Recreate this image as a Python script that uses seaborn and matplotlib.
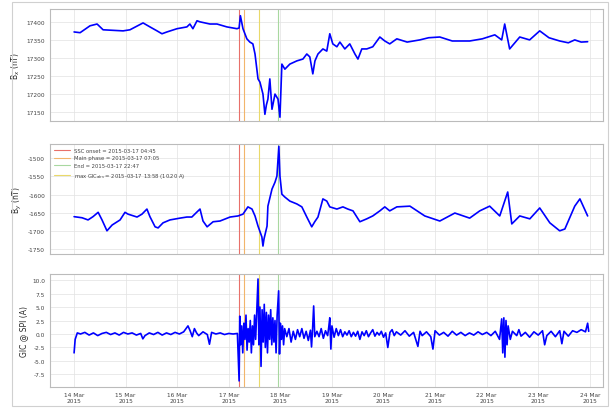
import numpy as np
import pandas as pd
import matplotlib
matplotlib.use("Agg")
import matplotlib.pyplot as plt
import matplotlib.dates as mdates
import seaborn as sns

# ---------------- data (hours after 2015-03-14 00:00) ----------------
bx_hours = [0, 2.8, 7.4, 10.7, 13.5, 22.8, 26.0, 32.1, 35.3, 38.6, 40.9, 43.2, 47.9, 52.5,
            53.9, 55.3, 57.2, 58.6, 63.2, 66.5, 71.1, 75.8, 76.8, 77.4, 78.6, 80.4, 81.8,
            83.2, 84.2, 85.6, 86.5, 87.9, 88.8, 89.5, 90.2, 91.1, 92.1, 93.5, 94.9, 95.8,
            96.7, 98.1, 100.4, 103.7, 106.5, 108.3, 109.7, 111.1, 112.1, 113.5, 115.8,
            117.6, 119.0, 120.4, 122.3, 123.7, 126.0, 128.3, 130.7, 132.1, 133.9, 136.2,
            139.0, 142.3, 144.6, 146.9, 150.2, 155.0, 160.9, 165.0, 170.2, 176.0, 184.1,
            190.0, 195.8, 199.0, 200.4, 202.7, 207.4, 212.0, 216.7, 221.0, 226.0, 230.0,
            233.0, 236.0, 239.0]
bx_values = [17372, 17370, 17389, 17394, 17378, 17375, 17378, 17397, 17386, 17375, 17367,
             17372, 17381, 17386, 17394, 17381, 17403, 17400, 17394, 17394, 17386, 17381,
             17383, 17417, 17381, 17353, 17344, 17339, 17311, 17242, 17233, 17200, 17144,
             17170, 17186, 17242, 17158, 17200, 17186, 17136, 17283, 17269, 17283, 17292,
             17297, 17311, 17303, 17256, 17292, 17311, 17325, 17319, 17367, 17339, 17331,
             17344, 17325, 17339, 17311, 17297, 17325, 17325, 17331, 17358, 17347, 17339,
             17353, 17344, 17350, 17356, 17358, 17347, 17347, 17353, 17364, 17350, 17394,
             17325, 17358, 17350, 17375, 17356, 17347, 17342, 17350, 17344, 17345]

by_hours = [0, 3.7, 6.5, 8.8, 11.2, 13.0, 15.3, 17.7, 21.4, 23.7, 25.1, 29.3, 31.6, 33.9,
            35.3, 37.7, 39.1, 41.4, 44.6, 49.3, 52.5, 54.8, 57.2, 58.6, 60.0, 61.9, 64.7,
            67.9, 72.6, 76.3, 78.6, 80.9, 82.8, 84.2, 85.6, 87.4, 87.9, 88.4, 89.8, 90.2,
            92.1, 93.5, 94.4, 95.3, 95.8, 96.7, 98.1, 100.4, 103.7, 106.0, 108.3, 110.6,
            112.0, 113.5, 115.8, 117.6, 119.0, 122.3, 125.1, 127.4, 129.8, 133.0, 136.2,
            139.0, 142.3, 144.6, 146.9, 150.2, 156.3, 163.2, 170.2, 177.2, 184.1, 188.8,
            193.4, 198.1, 201.8, 203.7, 207.4, 212.1, 216.7, 221.4, 226.0, 228.4, 233.0,
            235.4, 239.0]
by_values = [-1661, -1664, -1670, -1661, -1649, -1670, -1700, -1684, -1670, -1649, -1654,
             -1662, -1654, -1640, -1661, -1689, -1692, -1678, -1670, -1665, -1662, -1662,
             -1648, -1640, -1673, -1689, -1675, -1673, -1662, -1659, -1654, -1634, -1640,
             -1659, -1687, -1717, -1742, -1722, -1687, -1632, -1585, -1566, -1549, -1467,
             -1549, -1599, -1607, -1618, -1626, -1634, -1662, -1689, -1675, -1662, -1612,
             -1618, -1634, -1640, -1634, -1640, -1645, -1675, -1667, -1659, -1645, -1634,
             -1645, -1634, -1632, -1659, -1673, -1651, -1665, -1645, -1632, -1659, -1593,
             -1681, -1659, -1667, -1637, -1678, -1700, -1695, -1632, -1612, -1659]

# GIC samples as (hour, amps) pairs
gic_samples = [
    (0, -3.5), (0.5, -1.0), (1.5, 0.2), (3, 0.0), (5, 0.3), (7, -0.2), (9, 0.2),
    (11, -0.3), (13, 0.1), (15, 0.3), (17, -0.1), (19, 0.2), (21, -0.2), (23, 0.3),
    (25, 0.0), (27, 0.2), (29, -0.2), (31, 0.1), (32, -0.9), (33, -0.3), (35, 0.2),
    (37, -0.1), (39, 0.3), (41, -0.2), (43, 0.2), (45, -0.1), (47, 0.3), (49, 0.0),
    (51, 0.4), (53, 1.5), (54, 0.6), (55, -0.5), (56, 1.0), (57, 0.2), (58, -0.3),
    (60, 0.4), (62, -0.1), (63, -1.9), (64, 0.3), (66, 0.0), (68, 0.2), (70, -0.1),
    (72, 0.1), (74, 0.0), (76, 0.1),
    (76.8, -8.7), (77.1, 3.3), (77.5, -2.0), (78, 1.5), (78.5, -3.5), (79, 2.0),
    (79.5, -1.0), (80, 3.5), (80.5, -3.0), (81, 1.0), (81.5, -1.5), (82, 2.5),
    (82.5, -3.5), (83, 1.5), (83.5, -2.0), (84, 3.5), (84.5, -1.0), (85, 4.0),
    (85.6, 10.2), (86, -2.0), (86.5, 5.0), (87, -6.0), (87.5, 4.5), (88, -1.5),
    (88.5, 5.5), (89, -2.5), (89.5, 4.0), (90, -3.5), (90.5, 3.5), (91, -1.0),
    (91.5, 4.5), (92, -2.0), (92.5, 3.0), (93, -1.5), (93.5, 2.5), (94, -3.5),
    (94.5, 3.5), (95.2, 8.0), (95.6, -3.7), (96, 2.0), (96.5, -1.0), (97, 1.5),
    (97.5, -2.0), (98, 1.0), (99, -0.5), (100, 1.0), (101, -1.5), (102, 0.5),
    (103, -1.0), (104, 0.8), (105, -0.5), (106, 1.0), (107, -0.8), (108, 0.5),
    (109, -1.2), (110, 0.7), (110.5, -2.4), (111, 1.0), (111.5, 5.2), (112, -0.5),
    (113, 0.5), (114, -0.5), (115, 1.0), (116, -0.8), (117, 0.6), (118, -0.3),
    (118.5, 1.2), (119, 3.0), (119.5, -2.8), (120, 1.5), (121, -0.6), (122, 1.0),
    (123, -0.3), (124, 0.8), (125, -0.5), (126, 0.4), (127, -0.2), (128, 0.6),
    (129, -0.5), (130, 0.3), (131, -0.4), (132, 0.5), (133, -1.0), (134, 0.4),
    (135, -0.3), (136, 0.6), (137, -0.5), (138, 0.2), (139, 0.8), (140, -0.4),
    (141, 0.3), (142, -0.2), (143, 0.5), (144, -0.6), (145, 0.2), (146, -2.5),
    (147, 0.3), (148, 0.8), (149, -0.3), (150, 0.4), (152, -0.2), (154, 0.6),
    (156, -0.4), (158, 0.3), (160, -2.3), (161, 0.5), (162, -0.3), (164, 0.4),
    (166, -0.5), (167, -2.8), (168, 0.6), (170, -0.2), (172, 0.3), (174, -0.4),
    (176, 0.5), (178, -0.2), (180, 0.3), (182, -0.3), (184, 0.2), (186, -0.2),
    (188, 0.4), (190, -0.1), (192, 0.3), (194, -0.3), (196, 0.5), (198, -1.0),
    (199, 2.8), (199.5, -3.5), (200, 3.0), (200.5, -4.3), (201, 2.5), (201.5, -2.0),
    (202, 1.5), (203, -1.0), (204, 0.5), (206, -0.3), (207, 0.8), (208, -0.4),
    (210, 0.3), (212, -0.6), (214, 0.4), (216, -0.2), (218, 0.6), (219, -2.0),
    (220, -0.3), (222, 0.5), (224, -0.5), (226, 0.6), (227, -1.8), (228, 0.5),
    (230, -0.4), (232, 0.6), (234, 0.3), (236, 0.8), (238, 0.4), (239, 2.0),
    (239.5, 0.5),
]

event_labels = ["SSC onset = 2015-03-17 04:45", "Main phase = 2015-03-17 07:05",
                "End = 2015-03-17 22:47", "max GIC$_{abs}$ = 2015-03-17 13:58 (10.20 A)"]
event_hours = [76.75, 79.08, 94.78, 85.97]
event_colors = ["#e8706a", "#f2b56b", "#a8d8a0", "#e9d96a"]

bx_ticks = [17150, 17200, 17250, 17300, 17350, 17400]
by_ticks = [-1750, -1700, -1650, -1600, -1550, -1500]
gic_ticks = [-7.5, -5.0, -2.5, 0.0, 2.5, 5.0, 7.5, 10.0]

# ---------------- build frames ----------------
t0 = pd.Timestamp("2015-03-14 00:00")
to_dt = lambda hrs: t0 + pd.to_timedelta(np.asarray(hrs, dtype=float), unit="h")
df_bx = pd.DataFrame({"time": to_dt(bx_hours), "val": bx_values})
df_by = pd.DataFrame({"time": to_dt(by_hours), "val": by_values})
df_gic = pd.DataFrame({"time": to_dt([h for h, _ in gic_samples]),
                       "val": [v for _, v in gic_samples]})
ev_times = to_dt(event_hours)

sns.set_style("white")
plt.rcParams["font.family"] = ["DejaVu Sans"]

fig = plt.figure(figsize=(6.1, 4.1), dpi=100)
L, R = 0.082, 0.988
ax1 = fig.add_axes([L, 0.702, R - L, 0.274])
ax2 = fig.add_axes([L, 0.378, R - L, 0.268])
ax3 = fig.add_axes([L, 0.054, R - L, 0.275])

# outer frame
fig.patches.append(plt.Rectangle((12 / 610, 3 / 410), 596 / 610, 404 / 410,
                                 transform=fig.transFigure, fill=False,
                                 edgecolor="#d0d0d0", lw=0.8))

xmin = t0 + pd.Timedelta(hours=-11.2)
xmax = t0 + pd.Timedelta(hours=246)

panels = [(ax1, df_bx, "B$_x$ (nT)", (17125, 17436), bx_ticks, "%d"),
          (ax2, df_by, "B$_y$ (nT)", (-1764, -1461), by_ticks, "%d"),
          (ax3, df_gic, "GIC @ SPI (A)", (-9.8, 11.1), gic_ticks, "%.1f")]

for ax, df, lab, yl, yt, fmt in panels:
    for t, c, l in zip(ev_times, event_colors, event_labels):
        ax.axvline(t, color=c, lw=0.8, ls="-", label=l, zorder=1)
    sns.lineplot(data=df, x="time", y="val", ax=ax, color="blue", lw=1.2,
                 estimator=None, sort=False, zorder=3, legend=False)
    if ax.get_legend() is not None:
        ax.get_legend().remove()
    ax.set_xlim(xmin, xmax)
    ax.set_ylim(*yl)
    ax.set_yticks(yt)
    ax.set_yticklabels([fmt % v for v in yt])
    ax.set_ylabel(lab, fontsize=5.5, labelpad=3)
    ax.set_xlabel("")
    ax.xaxis.set_major_locator(mdates.DayLocator())
    ax.xaxis.set_major_formatter(mdates.DateFormatter("%d %b\n%Y"))
    ax.grid(True, color="#e2e2e2", lw=0.5, ls="-")
    ax.set_axisbelow(True)
    ax.tick_params(axis="both", labelsize=4.2, length=2, width=0.5, pad=1.5,
                   colors="#555555", labelcolor="#444444")
    for s in ax.spines.values():
        s.set_color("#bbbbbb")
        s.set_linewidth(0.8)

for ax in (ax1, ax2):
    ax.tick_params(axis="x", labelbottom=False)

h, l = ax2.get_legend_handles_labels()
leg = ax2.legend(h[:4], l[:4], loc="upper left", fontsize=3.8, frameon=False,
                 handlelength=3, borderaxespad=0.3, labelspacing=0.5)
for txt in leg.get_texts():
    txt.set_color("#444444")

fig.savefig("out.png", dpi=100)
